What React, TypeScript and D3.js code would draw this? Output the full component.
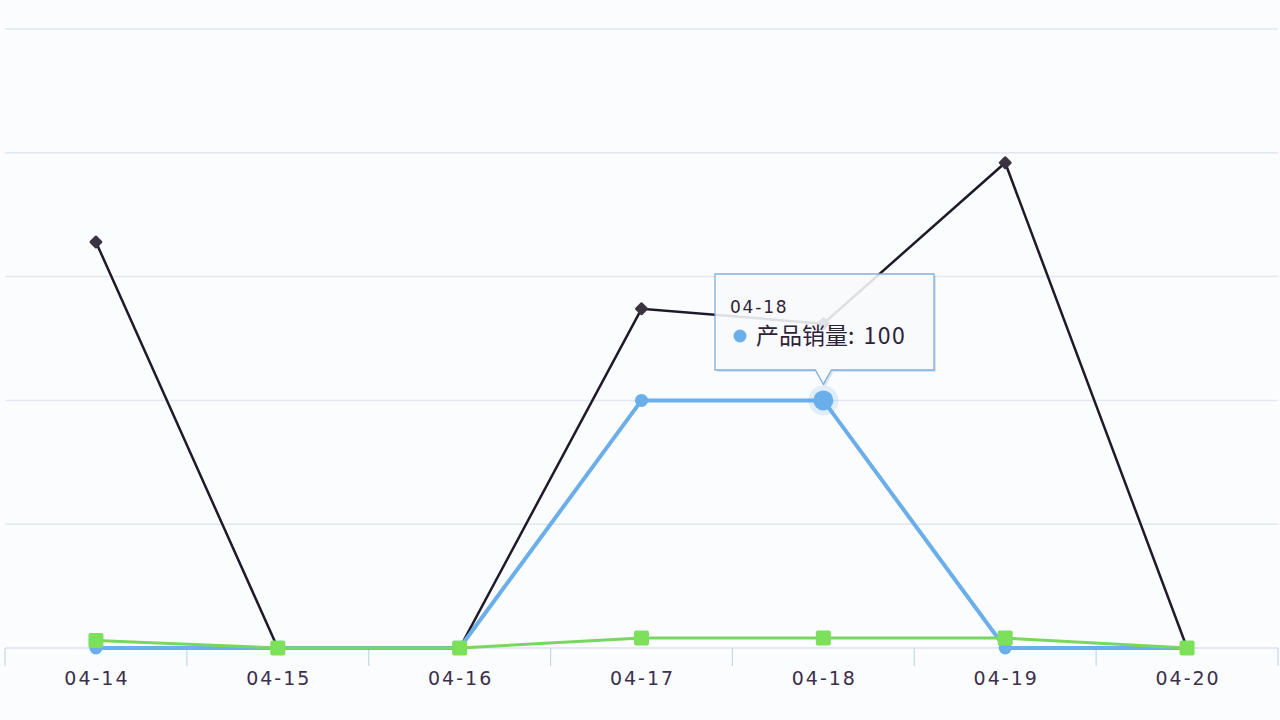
import { useEffect, useRef } from "react";
import * as d3 from "d3";

const dates = ["04-14", "04-15", "04-16", "04-17", "04-18", "04-19", "04-20"];
const blackValues = [164, 0, 0, 137, 131, 196, 0];
const blueValues = [0, 0, 0, 100, 100, 0, 0];
const greenValues = [3, 0, 0, 4, 4, 4, 0];
const yTicks = [0, 50, 100, 150, 200, 250];
const tooltipIndex = 4;
const tooltipSeriesName = "产品销量";

const W = 1280;
const H = 720;

export default function App() {
  const ref = useRef<SVGSVGElement>(null);

  useEffect(() => {
    const svg = d3.select(ref.current);
    svg.selectAll("*").remove();

    const x = d3.scaleBand().domain(dates).range([5, 1278]);
    const y = d3.scaleLinear().domain([0, 250]).range([648, 29]);
    const cx = (d: string) => (x(d) ?? 0) + x.bandwidth() / 2;

    svg.append("rect").attr("width", W).attr("height", H).attr("fill", "#fbfcfe");

    // grid
    svg
      .append("g")
      .selectAll("line")
      .data(yTicks.slice(1))
      .join("line")
      .attr("x1", 5)
      .attr("x2", 1278)
      .attr("y1", (d) => y(d))
      .attr("y2", (d) => y(d))
      .attr("stroke", "#e1e8f1")
      .attr("stroke-width", 1.5);

    // x axis
    const axis = svg.append("g").attr("transform", `translate(0,${y(0)})`);
    axis.append("line").attr("x1", 5).attr("x2", 1278).attr("stroke", "#c9d6e6").attr("stroke-width", 1.2);
    const bounds = dates.map((d) => x(d) ?? 0).concat([1278]);
    axis
      .selectAll("line.tick")
      .data(bounds)
      .join("line")
      .attr("class", "tick")
      .attr("x1", (d) => d)
      .attr("x2", (d) => d)
      .attr("y1", 0)
      .attr("y2", 18)
      .attr("stroke", "#c9d6e6")
      .attr("stroke-width", 1.2);
    axis
      .selectAll("text")
      .data(dates)
      .join("text")
      .attr("x", (d) => cx(d) + 1)
      .attr("y", 37)
      .attr("text-anchor", "middle")
      .attr("font-family", "DejaVu Sans, sans-serif")
      .attr("font-size", 19)
      .attr("letter-spacing", 2)
      .attr("fill", "#3b2f4c")
      .text((d) => d);

    const line = (vals: number[]) =>
      d3.line<number>().x((_, i) => cx(dates[i])).y((v) => y(v))(vals) ?? "";

    // black series
    svg.append("path").attr("d", line(blackValues)).attr("fill", "none").attr("stroke", "#1f1a2b").attr("stroke-width", 2.5);
    svg
      .append("g")
      .selectAll("rect")
      .data(blackValues)
      .join("rect")
      .attr("x", -5)
      .attr("y", -5)
      .attr("width", 10)
      .attr("height", 10)
      .attr("rx", 1.5)
      .attr("transform", (v, i) => `translate(${cx(dates[i])},${y(v)}) rotate(45)`)
      .attr("fill", "#3a3440");

    // blue series
    svg.append("path").attr("d", line(blueValues)).attr("fill", "none").attr("stroke", "#6aaeea").attr("stroke-width", 4);
    svg
      .append("g")
      .selectAll("circle")
      .data(blueValues)
      .join("circle")
      .attr("cx", (_, i) => cx(dates[i]))
      .attr("cy", (v) => y(v))
      .attr("r", 6.5)
      .attr("fill", "#6aaeea");

    // green series
    svg.append("path").attr("d", line(greenValues)).attr("fill", "none").attr("stroke", "#78d75e").attr("stroke-width", 3);
    svg
      .append("g")
      .selectAll("rect")
      .data(greenValues)
      .join("rect")
      .attr("x", (_, i) => cx(dates[i]) - 7.5)
      .attr("y", (v) => y(v) - 7.5)
      .attr("width", 15)
      .attr("height", 15)
      .attr("rx", 2)
      .attr("fill", "#7de05a");

    // highlighted point
    const hx = cx(dates[tooltipIndex]);
    const hy = y(blueValues[tooltipIndex]);
    svg.append("circle").attr("cx", hx).attr("cy", hy).attr("r", 15).attr("fill", "#6aaeea").attr("opacity", 0.18);
    svg.append("circle").attr("cx", hx).attr("cy", hy).attr("r", 10).attr("fill", "#6aaeea");

    // tooltip
    const bx = 715, by = 274, bw = 219, bh = 96;
    const tip = svg.append("g");
    const shape = `M${bx},${by}H${bx + bw}V${by + bh}H${hx + 8}L${hx},${hy - 16}L${hx - 8},${by + bh}H${bx}Z`;
    tip
      .append("path")
      .attr("d", shape)
      .attr("transform", "translate(2,2)")
      .attr("fill", "#9fb3c8")
      .attr("opacity", 0.35);
    tip
      .append("path")
      .attr("d", shape)
      .attr("fill", "#ffffff")
      .attr("fill-opacity", 0.82)
      .attr("stroke", "#7eaedc")
      .attr("stroke-width", 1.3);
    tip
      .append("text")
      .attr("x", 730)
      .attr("y", 313)
      .attr("font-family", "DejaVu Sans, sans-serif")
      .attr("font-size", 17)
      .attr("letter-spacing", 1.8)
      .attr("fill", "#2b2238")
      .text(dates[tooltipIndex]);
    tip.append("circle").attr("cx", 740).attr("cy", 336).attr("r", 6.5).attr("fill", "#6aaeea");
    const t = tip
      .append("text")
      .attr("x", 756)
      .attr("y", 344)
      .attr("font-family", "Noto Sans CJK SC, sans-serif")
      .attr("font-size", 23)
      .attr("fill", "#2b2238");
    t.append("tspan").text(`${tooltipSeriesName}:`);
    t.append("tspan").attr("dx", 9).attr("letter-spacing", 1.5).text(`${blueValues[tooltipIndex]}`);
  }, []);

  return <svg ref={ref} width={W} height={H} style={{ position: "fixed", left: 0, top: 0 }} />;
}
